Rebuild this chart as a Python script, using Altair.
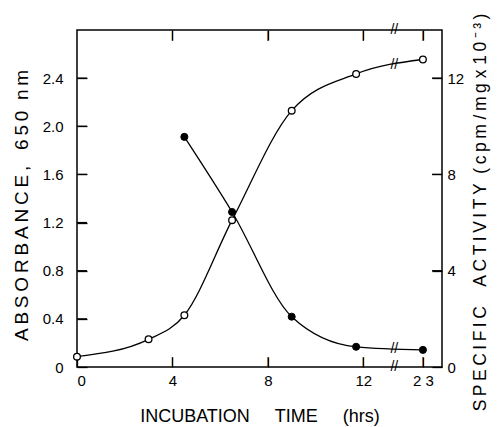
import altair as alt
import pandas as pd

# Open circles: absorbance at 650 nm (left axis)
abs_hours = [0, 3, 4.5, 6.5, 9, 11.7, 23]
absorbance = [0.086, 0.23, 0.43, 1.22, 2.13, 2.435, 2.555]
# Filled circles: specific activity, cpm/mg x 10^-3 (right axis)
act_hours = [4.5, 6.5, 9, 11.7, 23]
activity = [9.56, 6.44, 2.09, 0.84, 0.71]

x_tick_hours = [0, 4, 8, 12, 23]
abs_ticks = [0, 0.4, 0.8, 1.2, 1.6, 2.0, 2.4]
act_ticks = [0, 4, 8, 12]

# broken time axis: 23 h is drawn just after the break
POS_23 = 14.5
BREAK_POS = 13.3
X_MAX = 15.3
ABS_MAX = 2.8
ACT_MAX = 14

# break marks ("//") on the frame and on each curve
brk_abs_y = [0, ABS_MAX, 2.51]
brk_act_y = [0.74]

W, H = 365, 337
TICK = 10
TS = "\u2009"   # thin space (letter spacing)
NB = "\u00a0"   # no-break space (word gaps)


def spaced(s):
    return TS.join(list(s))


def to_pos(h):
    return POS_23 if h > 12 else h


abs_df = pd.DataFrame({"h": abs_hours, "v": absorbance})
act_df = pd.DataFrame({"h": act_hours, "v": activity})
brk_abs_df = pd.DataFrame({"pos": [BREAK_POS] * len(brk_abs_y), "v": brk_abs_y})
brk_act_df = pd.DataFrame({"pos": [BREAK_POS] * len(brk_act_y), "v": brk_act_y})

xt_pos = [to_pos(h) for h in x_tick_hours[1:]]
bt_df = pd.DataFrame({"pos": xt_pos, "v": [0.0] * len(xt_pos)})
tt_df = pd.DataFrame({"pos": xt_pos, "v": [float(ABS_MAX)] * len(xt_pos)})
lt_df = pd.DataFrame({"pos": [0.0] * len(abs_ticks[1:]), "v": abs_ticks[1:]})
rt_df = pd.DataFrame({"pos": [float(X_MAX)] * len(act_ticks[1:]),
                      "v": [float(t) for t in act_ticks[1:]]})

calc = "datum.h > 12 ? %s : datum.h" % POS_23
FONT = "Liberation Sans"


def xs():
    return alt.Scale(domain=[0, X_MAX], nice=False, zero=False)


def ys_abs():
    return alt.Scale(domain=[0, ABS_MAX], nice=False)


def ys_act():
    return alt.Scale(domain=[0, ACT_MAX], nice=False)


common = dict(domain=False, offset=-TICK, tickSize=TICK, tickColor="black",
              tickWidth=1.3)

bottom_axis = alt.Axis(
    orient="bottom", values=[to_pos(h) for h in x_tick_hours],
    labelExpr="datum.value > 12 ? '2 3' : datum.label",
    labelPadding=6,
    title="INCUBATION" + NB * 5 + "TIME" + NB * 5 + "(hrs)",
    titlePadding=19, titleFontSize=18, **common,
)
top_axis = alt.Axis(
    orient="top", values=xt_pos,
    labels=False, title=None, **common,
)
left_axis = alt.Axis(
    orient="left", values=abs_ticks,
    labelExpr="datum.value == 0 ? '0' : format(datum.value, '.1f')",
    labelPadding=14,
    title=spaced("ABSORBANCE,") + NB * 3 + spaced("650") + NB * 2 + spaced("nm"),
    titlePadding=11, titleY=175, titleFontSize=19, **common,
)
right_axis = alt.Axis(
    orient="right", values=act_ticks, labelPadding=5,
    title=spaced("SPECIFIC") + NB * 4 + spaced("ACTIVITY") + NB * 2
    + spaced("(cpm") + NB + spaced("/mg") + NB + "x" + NB + spaced("10⁻³)"),
    titleAngle=270, titleBaseline="top", titlePadding=8, titleY=182,
    titleFontSize=17.5, **common,
)

abs_line = alt.Chart(abs_df).transform_calculate(pos=calc).mark_line(
    interpolate="monotone", color="black", strokeWidth=1.3
).encode(
    x=alt.X("pos:Q", scale=xs(), axis=bottom_axis),
    y=alt.Y("v:Q", scale=ys_abs(), axis=left_axis),
)
abs_pts = alt.Chart(abs_df).transform_calculate(pos=calc).mark_point(
    shape="circle", filled=True, fill="white", stroke="black",
    strokeWidth=1.3, size=45, opacity=1
).encode(
    x=alt.X("pos:Q", scale=xs(), axis=None),
    y=alt.Y("v:Q", scale=ys_abs(), axis=None),
)
brk_abs = alt.Chart(brk_abs_df).mark_text(
    text="//", fontSize=14, font=FONT, color="black",
    align="center", baseline="middle"
).encode(
    x=alt.X("pos:Q", scale=xs(), axis=None),
    y=alt.Y("v:Q", scale=ys_abs(), axis=None),
)

act_line = alt.Chart(act_df).transform_calculate(pos=calc).mark_line(
    interpolate="monotone", color="black", strokeWidth=1.3
).encode(
    x=alt.X("pos:Q", scale=xs(), axis=top_axis),
    y=alt.Y("v:Q", scale=ys_act(), axis=right_axis),
)
act_pts = alt.Chart(act_df).transform_calculate(pos=calc).mark_point(
    shape="circle", filled=True, fill="black", stroke="black",
    strokeWidth=1, size=50, opacity=1
).encode(
    x=alt.X("pos:Q", scale=xs(), axis=None),
    y=alt.Y("v:Q", scale=ys_act(), axis=None),
)
brk_act = alt.Chart(brk_act_df).mark_text(
    text="//", fontSize=14, font=FONT, color="black",
    align="center", baseline="middle"
).encode(
    x=alt.X("pos:Q", scale=xs(), axis=None),
    y=alt.Y("v:Q", scale=ys_act(), axis=None),
)

# inward tick marks: left/right as thin filled bar symbols (closed path,
# scaled by sqrt(size)/2 = 5 px), top/bottom as "|" glyphs
LBAR = "M0,-0.13L2,-0.13L2,0.13L0,0.13Z"
RBAR = "M-2,-0.13L0,-0.13L0,0.13L-2,0.13Z"
bar = dict(filled=True, fill="black", strokeWidth=0, size=TICK * TICK,
           opacity=1)

left_ticks = alt.Chart(lt_df).mark_point(shape=LBAR, **bar).encode(
    x=alt.X("pos:Q", scale=xs(), axis=None),
    y=alt.Y("v:Q", scale=ys_abs(), axis=None),
)
right_ticks = alt.Chart(rt_df).mark_point(shape=RBAR, **bar).encode(
    x=alt.X("pos:Q", scale=xs(), axis=None),
    y=alt.Y("v:Q", scale=ys_act(), axis=None),
)
glyph = dict(text="|", fontSize=11, font=FONT, color="black", align="center")
bottom_ticks = alt.Chart(bt_df).mark_text(baseline="bottom", **glyph).encode(
    x=alt.X("pos:Q", scale=xs(), axis=None),
    y=alt.Y("v:Q", scale=ys_abs(), axis=None),
)
top_ticks = alt.Chart(tt_df).mark_text(baseline="top", **glyph).encode(
    x=alt.X("pos:Q", scale=xs(), axis=None),
    y=alt.Y("v:Q", scale=ys_abs(), axis=None),
)

chart = alt.layer(
    abs_line, act_line, brk_abs, brk_act,
    bottom_ticks, top_ticks, left_ticks, right_ticks,
    abs_pts, act_pts
).resolve_scale(
    y="independent"
).resolve_axis(
    x="independent", y="independent"
).properties(
    width=W, height=H,
    autosize=alt.AutoSizeParams(type="none"),
    padding={"left": 69, "top": 22, "right": 53, "bottom": 60},
).configure_view(
    stroke="black", strokeWidth=1.5
).configure_axis(
    grid=False, labelColor="black", labelFont=FONT, labelFontSize=15,
    titleColor="black", titleFont=FONT, titleFontSize=16,
    titleFontWeight="normal",
)

chart.save("out.html", embed_options={"renderer": "svg", "actions": False})
